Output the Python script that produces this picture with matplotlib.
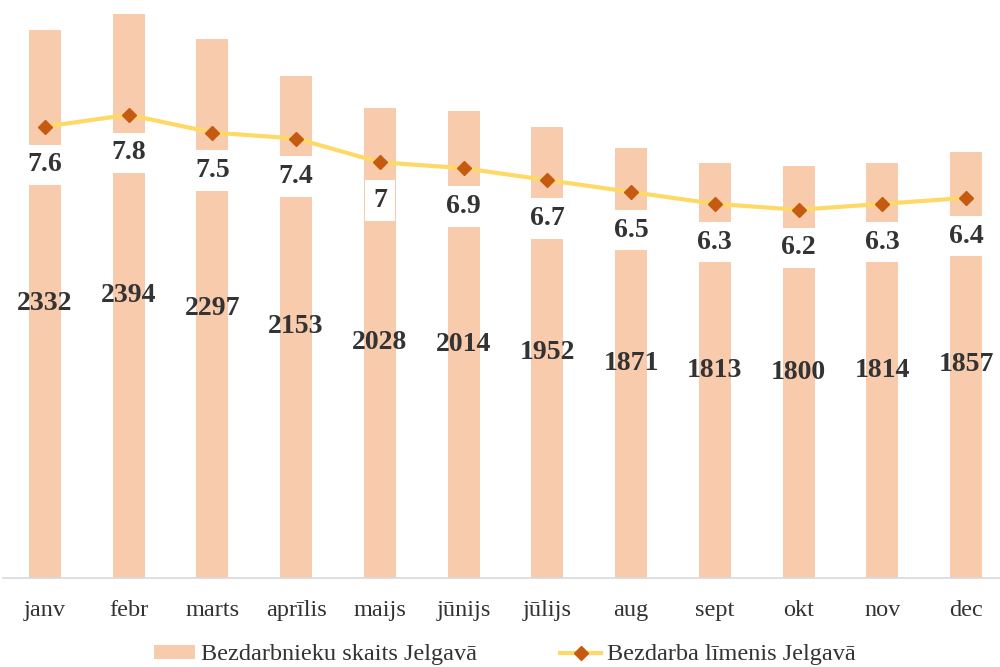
import matplotlib.pyplot as plt
from matplotlib.lines import Line2D
from matplotlib.patches import Patch

# data
months = ['janv', 'febr', 'marts', 'aprīlis', 'maijs', 'jūnijs',
          'jūlijs', 'aug', 'sept', 'okt', 'nov', 'dec']
unemployed = [2332, 2394, 2297, 2153, 2028, 2014, 1952, 1871, 1813, 1800, 1814, 1857]
rate = [7.6, 7.8, 7.5, 7.4, 7, 6.9, 6.7, 6.5, 6.3, 6.2, 6.3, 6.4]

bar_color = '#F8CBAD'
line_color = '#FFD966'
marker_color = '#C55A11'
text_color = '#333333'
serif = 'Liberation Serif'

fig = plt.figure(figsize=(10, 6.67), dpi=100)
ax = fig.add_axes([0.003, 0.1334, 1.005, 0.8486])
ax2 = ax.twinx()

x = list(range(len(months)))

# bars with value labels in the middle
bars = ax.bar(x, unemployed, width=0.38, color=bar_color, zorder=1)
for rect, v in zip(bars, unemployed):
    ax.text(rect.get_x() + rect.get_width() / 2, (200 + v) / 2, str(v),
            ha='center', va='center', fontsize=20, fontweight='bold',
            family=serif, color=text_color)

ax.set_ylim(200, 2400)
ax.set_xlim(-0.5, len(months) - 0.5)

# line on the secondary axis, labels in white boxes below the points
ax2.plot(x, rate, color=line_color, linewidth=3, marker='D',
         markersize=7.5, markerfacecolor=marker_color,
         markeredgecolor=marker_color, zorder=3)
for xi, r in zip(x, rate):
    ax2.annotate(f'{r:g}', (xi, r), xytext=(0, -27.5), textcoords='offset points',
                 ha='center', va='center', fontsize=20, fontweight='bold',
                 family=serif, color=text_color,
                 bbox=dict(boxstyle='square,pad=0.28', fc='white', ec='none'))
ax2.set_ylim(0, 9.53)

# axes styling
for a in (ax, ax2):
    for side in ('top', 'right', 'left'):
        a.spines[side].set_visible(False)
    a.set_yticks([])
ax2.spines['bottom'].set_visible(False)
ax.spines['bottom'].set_color('#D9D9D9')
ax.spines['bottom'].set_linewidth(1.2)
ax.set_xticks(x)
ax.set_xticklabels(months, fontsize=17.5, family=serif, color=text_color)
ax.tick_params(axis='x', length=0, pad=16)

# legend at the bottom
handles = [Patch(facecolor=bar_color, edgecolor='none'),
           Line2D([0], [0], color=line_color, linewidth=3, marker='D',
                  markersize=7.5, markerfacecolor=marker_color,
                  markeredgecolor=marker_color)]
labels = ['Bezdarbnieku skaits Jelgavā', 'Bezdarba līmenis Jelgavā']
fig.legend(handles, labels, loc='center', bbox_to_anchor=(0.505, 0.018),
           ncol=2, frameon=False, prop={'family': serif, 'size': 17.5},
           labelcolor=text_color, handlelength=1.7, handleheight=0.55,
           columnspacing=3.4, handletextpad=0.25, borderpad=0)

fig.savefig('out.png', dpi=100)
